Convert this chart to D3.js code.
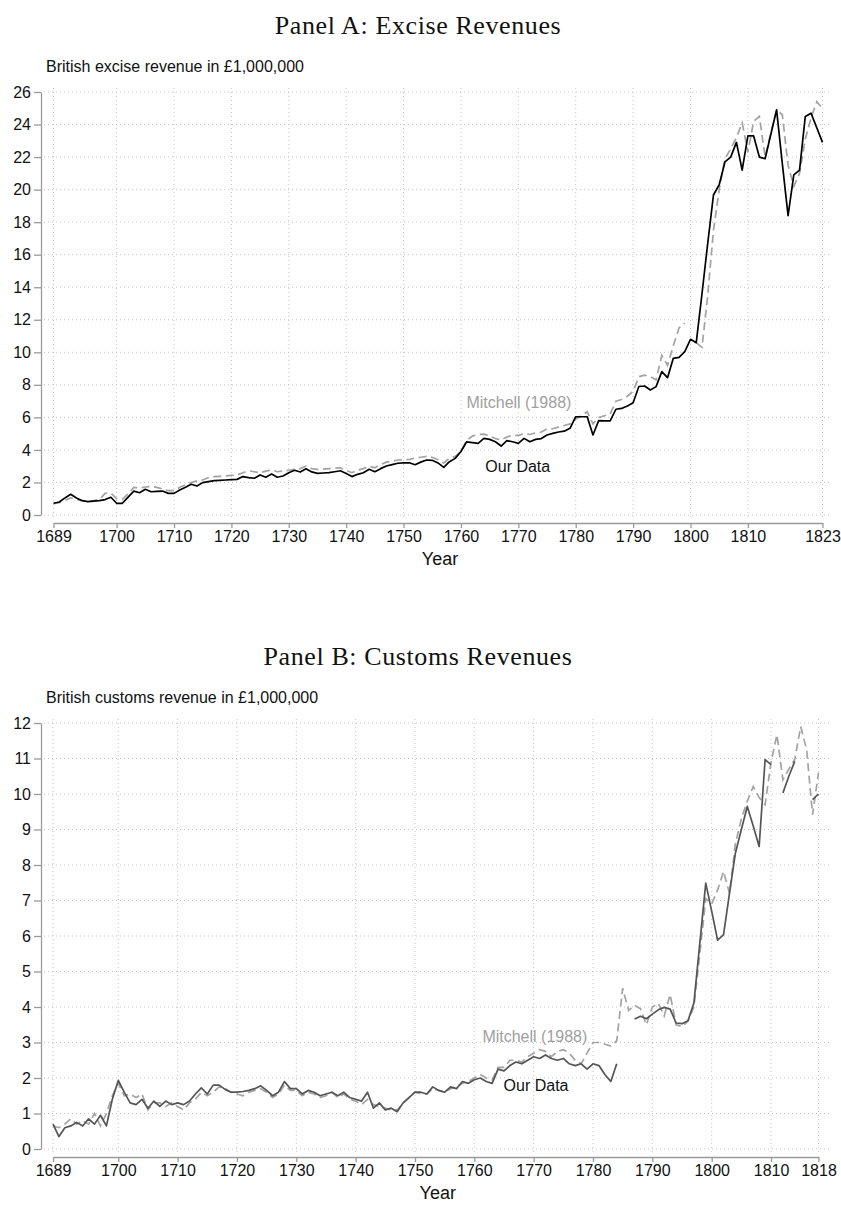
<!DOCTYPE html>
<html>
<head>
<meta charset="utf-8">
<script src="https://cdn.jsdelivr.net/npm/d3@7"></script>
<style>
  body { margin: 0; background: #fff; }
  svg text { font-family: "Liberation Sans", Arial, Helvetica, sans-serif; }
</style>
</head>
<body>
<script>
// Panel A: excise revenue, one value per year 1689..1823 (in £1,000,000)
var exciseFirstYear = 1689;
var exciseOurs = [
  0.72, 0.80, 1.05, 1.27, 1.05, 0.88, 0.82, 0.85, 0.88, 0.95,   // 1689-1698
  1.09, 0.72, 0.72, 1.10, 1.47, 1.37, 1.58, 1.43, 1.45, 1.47,   // 1699-1708
  1.33, 1.33, 1.54, 1.70, 1.89, 1.78, 1.99, 2.05, 2.11, 2.13,   // 1709-1718
  2.15, 2.17, 2.19, 2.36, 2.30, 2.26, 2.46, 2.32, 2.52, 2.32,   // 1719-1728
  2.40, 2.60, 2.75, 2.64, 2.84, 2.65, 2.56, 2.58, 2.60, 2.66,   // 1729-1738
  2.72, 2.55, 2.36, 2.50, 2.60, 2.81, 2.66, 2.85, 3.01, 3.10,   // 1739-1748
  3.18, 3.20, 3.21, 3.09, 3.25, 3.38, 3.36, 3.20, 2.93, 3.28,   // 1749-1758
  3.48, 3.90, 4.50, 4.45, 4.40, 4.71, 4.65, 4.50, 4.24, 4.57,   // 1759-1768
  4.50, 4.40, 4.71, 4.50, 4.65, 4.70, 4.92, 5.02, 5.10, 5.15,   // 1769-1778
  5.33, 6.04, 6.04, 6.04, 4.92, 5.80, 5.79, 5.78, 6.50, 6.55,   // 1779-1788
  6.70, 6.90, 7.90, 7.93, 7.68, 7.89, 8.81, 8.44, 9.63, 9.69,   // 1789-1798
  10.04, 10.80, 10.59, 13.60, 16.70, 19.67, 20.30, 21.70, 22.00, 22.90, // 1799-1808
  21.20, 23.30, 23.30, 22.00, 21.90, 23.40, 24.90, 21.60, 18.40, 20.90, // 1809-1818
  21.20, 24.50, 24.70, 23.80, 22.90                                      // 1819-1823
];
var exciseMitchell = [
  0.70, 0.75, 0.90, 1.05, 0.95, 0.88, 0.85, 0.88, 0.95, 1.33,
  1.35, 1.00, 0.96, 1.30, 1.70, 1.65, 1.72, 1.76, 1.70, 1.60,
  1.50, 1.50, 1.70, 1.85, 2.00, 2.10, 2.15, 2.30, 2.36, 2.38,
  2.40, 2.43, 2.46, 2.60, 2.72, 2.66, 2.60, 2.70, 2.77, 2.66,
  2.70, 2.75, 2.80, 2.85, 3.00, 2.85, 2.80, 2.82, 2.85, 2.88,
  2.90, 2.75, 2.60, 2.75, 2.85, 3.00, 2.90, 3.10, 3.25, 3.30,
  3.38, 3.40, 3.42, 3.50, 3.55, 3.60, 3.55, 3.40, 3.20, 3.50,
  3.60, 3.90, 4.60, 4.85, 4.95, 4.97, 4.85, 4.70, 4.60, 4.80,
  4.90, 4.90, 5.00, 4.95, 5.05, 5.10, 5.30, 5.30, 5.40, 5.50,
  5.60, 5.90, 6.10, 6.35, 5.60, 6.00, 6.10, 6.20, 7.00, 7.10,
  7.30, 7.60, 8.50, 8.60, 8.50, 8.30, 9.80, 9.20, 10.40, 11.50,
  11.80, null, 10.60, 10.30, 13.50, 17.50, 20.00, 21.90, 22.50, 23.20,
  24.10, 22.30, 24.20, 24.50, 22.00, 23.50, 24.90, 24.60, 21.50, 20.20,
  21.00, 23.10, 24.40, 25.40, 25.00
];
var exciseTicksX = [1689, 1700, 1710, 1720, 1730, 1740, 1750, 1760, 1770, 1780, 1790, 1800, 1810, 1823];
var exciseTicksY = [0, 2, 4, 6, 8, 10, 12, 14, 16, 18, 20, 22, 24, 26];

// Panel B: customs revenue, one value per year 1689..1818 (null = gap)
var customsFirstYear = 1689;
var customsOurs = [
  0.70, 0.35, 0.60, 0.65, 0.75, 0.65, 0.85, 0.70, 0.95, 0.65,   // 1689-1698
  1.40, 1.93, 1.60, 1.30, 1.25, 1.40, 1.15, 1.35, 1.20, 1.35,   // 1699-1708
  1.25, 1.30, 1.25, 1.35, 1.55, 1.72, 1.55, 1.80, 1.80, 1.68,   // 1709-1718
  1.60, 1.60, 1.62, 1.65, 1.70, 1.78, 1.65, 1.50, 1.60, 1.90,   // 1719-1728
  1.70, 1.70, 1.55, 1.65, 1.60, 1.50, 1.55, 1.60, 1.50, 1.60,   // 1729-1738
  1.45, 1.40, 1.35, 1.60, 1.15, 1.30, 1.10, 1.15, 1.05, 1.30,   // 1739-1748
  1.45, 1.60, 1.60, 1.55, 1.75, 1.65, 1.60, 1.75, 1.70, 1.90,   // 1749-1758
  1.85, 1.95, 2.00, 1.90, 1.85, 2.25, 2.20, 2.35, 2.45, 2.40,   // 1759-1768
  2.50, 2.60, 2.55, 2.65, 2.55, 2.50, 2.55, 2.40, 2.35, 2.40,   // 1769-1778
  2.25, 2.40, 2.35, 2.10, 1.90, 2.40, null, null, 3.66, 3.74,   // 1779-1788
  3.67, 3.80, 3.92, 3.99, 3.94, 3.55, 3.53, 3.61, 4.11, 5.80,   // 1789-1798
  7.49, 6.70, 5.88, 6.04, 7.20, 8.34, 9.00, 9.65, 9.10, 8.52,   // 1799-1808
  10.97, 10.83, null, 10.03, 10.50, 10.92, null, null, 9.84, 10.00 // 1809-1818
];
var customsMitchell = [
  0.65, 0.60, 0.70, 0.85, 0.70, 0.80, 0.70, 1.00, 0.65, 1.00,
  1.50, 1.85, 1.50, 1.55, 1.45, 1.55, 1.10, 1.30, 1.30, 1.20,
  1.30, 1.20, 1.10, 1.30, 1.40, 1.60, 1.50, 1.60, 1.75, 1.70,
  1.60, 1.55, 1.50, 1.60, 1.65, 1.70, 1.60, 1.45, 1.55, 1.80,
  1.65, 1.65, 1.50, 1.60, 1.55, 1.45, 1.50, 1.60, 1.45, 1.55,
  1.40, 1.35, 1.25, 1.40, 1.25, 1.20, 1.15, 1.10, 1.10, 1.30,
  1.45, 1.60, 1.55, 1.55, 1.70, 1.65, 1.60, 1.70, 1.75, 1.85,
  1.90, 2.00, 2.10, 2.00, 1.95, 2.30, 2.30, 2.50, 2.50, 2.45,
  2.60, 2.70, 2.80, 2.75, 2.60, 2.75, 2.80, 2.70, 2.50, 2.40,
  2.70, 3.00, 3.00, 2.95, 2.90, 3.05, 4.53, 3.90, 4.05, 3.95,
  3.50, 4.00, 4.10, 3.75, 4.35, 3.50, 3.45, 3.60, 4.00, 5.50,
  7.05, 6.90, 7.30, 7.82, 7.20, 8.60, 9.30, 9.80, 10.21, 9.90,
  9.70, 10.90, 11.67, 10.40, 10.70, 10.97, 11.90, 11.25, 9.42, 10.60
];
var customsTicksX = [1689, 1700, 1710, 1720, 1730, 1740, 1750, 1760, 1770, 1780, 1790, 1800, 1810, 1818];
var customsTicksY = [0, 1, 2, 3, 4, 5, 6, 7, 8, 9, 10, 11, 12];

var width = 841, height = 1215;

var svg = d3.select("body").append("svg")
  .attr("width", width)
  .attr("height", height);

function toPoints(first, values) {
  return values.map(function(v, i) { return { year: first + i, v: v }; });
}

function drawPanel(p) {
  var g = svg.append("g");

  var x = d3.scaleLinear()
    .domain([p.ticksX[0], p.ticksX[p.ticksX.length - 1]])
    .range([p.left, p.right]);
  var y = d3.scaleLinear()
    .domain([0, p.ticksY[p.ticksY.length - 1]])
    .range([p.bottom, p.top]);

  // panel title (serif) and y axis title
  g.append("text")
    .attr("x", 418).attr("y", p.titleY)
    .attr("text-anchor", "middle")
    .style("font-family", "'Liberation Serif', 'DejaVu Serif', serif")
    .style("font-size", "26px")
    .style("letter-spacing", "0.6px")
    .attr("fill", "#111")
    .text(p.title);

  g.append("text")
    .attr("x", 46).attr("y", p.subtitleY)
    .style("font-size", "16px")
    .attr("fill", "#111")
    .text(p.subtitle);

  // dotted grid
  g.selectAll(".hgrid").data(p.ticksY).enter().append("line")
    .attr("x1", 44).attr("x2", p.gridRight)
    .attr("y1", function(d) { return y(d); })
    .attr("y2", function(d) { return y(d); })
    .attr("stroke", "#c4c4c4").attr("stroke-width", 1)
    .attr("stroke-dasharray", "1,3");

  g.selectAll(".vgrid").data(p.ticksX).enter().append("line")
    .attr("x1", function(d) { return x(d); })
    .attr("x2", function(d) { return x(d); })
    .attr("y1", p.top - 4).attr("y2", p.bottom + 4)
    .attr("stroke", "#c4c4c4").attr("stroke-width", 1)
    .attr("stroke-dasharray", "1,3");

  // axes
  var yAxis = g.append("g")
    .attr("transform", "translate(41,0)")
    .call(d3.axisLeft(y).tickValues(p.ticksY).tickFormat(d3.format("d"))
      .tickSize(7).tickSizeOuter(0).tickPadding(3));

  var xAxis = g.append("g")
    .attr("transform", "translate(0," + p.axisY + ")")
    .call(d3.axisBottom(x).tickValues(p.ticksX).tickFormat(d3.format("d"))
      .tickSize(5).tickSizeOuter(0).tickPadding(3));

  [yAxis, xAxis].forEach(function(a) {
    a.select(".domain").attr("stroke", "#9a9a9a").attr("stroke-width", 1.3);
    a.selectAll(".tick line").attr("stroke", "#9a9a9a").attr("stroke-width", 1.3);
    a.selectAll(".tick text")
      .style("font-family", "'Liberation Sans', Arial, sans-serif")
      .style("font-size", "16px").attr("fill", "#111");
  });

  g.append("text")
    .attr("x", (p.left + p.right) / 2 + 2).attr("y", p.bottom + 50)
    .attr("text-anchor", "middle")
    .style("font-size", "18px").attr("fill", "#111")
    .text("Year");

  // series
  var line = d3.line()
    .defined(function(d) { return d.v !== null; })
    .x(function(d) { return x(d.year); })
    .y(function(d) { return y(d.v); });

  g.append("path")
    .datum(toPoints(p.first, p.mitchell))
    .attr("fill", "none")
    .attr("stroke", "#a3a3a3")
    .attr("stroke-width", 1.7)
    .attr("stroke-dasharray", "8,4.5")
    .attr("d", line);

  g.append("path")
    .datum(toPoints(p.first, p.ours))
    .attr("fill", "none")
    .attr("stroke", p.oursColor)
    .attr("stroke-width", 1.7)
    .attr("stroke-linejoin", "round")
    .attr("d", line);

  // in-plot labels
  p.labels.forEach(function(l) {
    g.append("text")
      .attr("x", x(l.year)).attr("y", y(l.value))
      .attr("text-anchor", "middle")
      .style("font-size", "16px")
      .attr("fill", l.color)
      .text(l.text);
  });
}

drawPanel({
  title: "Panel A: Excise Revenues",
  subtitle: "British excise revenue in \u00A31,000,000",
  titleY: 34, subtitleY: 72,
  left: 53.5, right: 822.5, top: 92, bottom: 515, axisY: 523, gridRight: 832,
  ticksX: exciseTicksX, ticksY: exciseTicksY,
  first: exciseFirstYear, ours: exciseOurs, mitchell: exciseMitchell,
  oursColor: "#000",
  labels: [
    { text: "Mitchell (1988)", year: 1770.1, value: 6.58, color: "#a0a0a0" },
    { text: "Our Data", year: 1769.9, value: 2.64, color: "#111" }
  ]
});

drawPanel({
  title: "Panel B: Customs Revenues",
  subtitle: "British customs revenue in \u00A31,000,000",
  titleY: 665, subtitleY: 703,
  left: 53, right: 818.5, top: 723, bottom: 1149, axisY: 1157, gridRight: 830,
  ticksX: customsTicksX, ticksY: customsTicksY,
  first: customsFirstYear, ours: customsOurs, mitchell: customsMitchell,
  oursColor: "#555",
  labels: [
    { text: "Mitchell (1988)", year: 1770.2, value: 3.01, color: "#a0a0a0" },
    { text: "Our Data", year: 1770.4, value: 1.63, color: "#111" }
  ]
});
</script>
</body>
</html>
